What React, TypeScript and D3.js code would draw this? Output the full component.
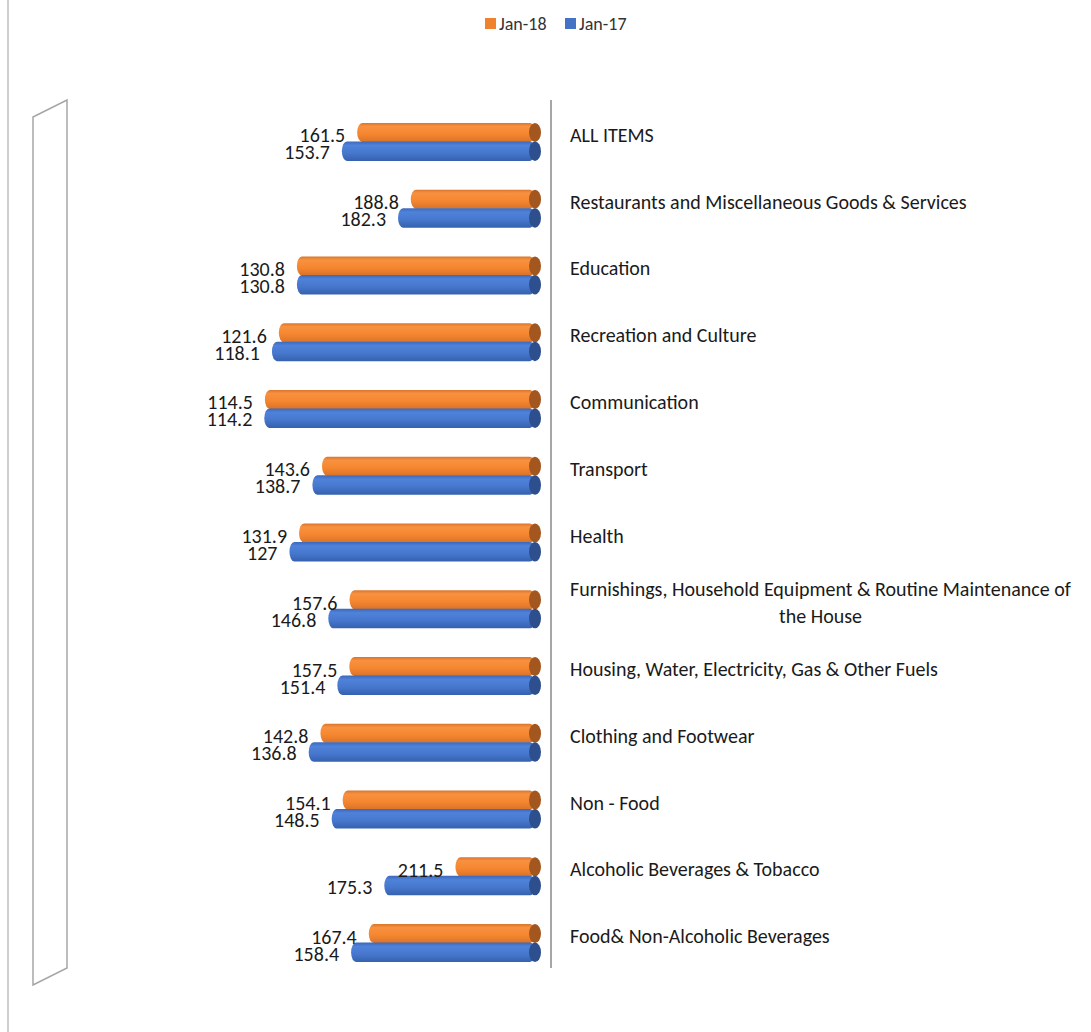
import * as d3 from "d3";
import { useMemo } from "react";

const categories = [
  "ALL ITEMS",
  "Restaurants and Miscellaneous Goods & Services",
  "Education",
  "Recreation and Culture",
  "Communication",
  "Transport",
  "Health",
  "Furnishings, Household Equipment & Routine Maintenance of the House",
  "Housing, Water, Electricity, Gas & Other Fuels",
  "Clothing and Footwear",
  "Non - Food",
  "Alcoholic Beverages & Tobacco",
  "Food& Non-Alcoholic Beverages",
];
const jan18 = [161.5, 188.8, 130.8, 121.6, 114.5, 143.6, 131.9, 157.6, 157.5, 142.8, 154.1, 211.5, 167.4];
const jan17 = [153.7, 182.3, 130.8, 118.1, 114.2, 138.7, 127, 146.8, 151.4, 136.8, 148.5, 175.3, 158.4];
const seriesNames = ["Jan-18", "Jan-17"];
const valueDomain = [0, 250];

const W = 1091;
const H = 1032;
const FONT = "Carlito, Lato, 'Liberation Sans', sans-serif";
const labelSize = 20;
const valueSize = 20;

// split a label into lines no wider than maxW
function wrap(text: string, maxW: number, font: string) {
  const ctx = document.createElement("canvas").getContext("2d")!;
  ctx.font = font;
  const words = text.split(" ");
  const lines: string[] = [];
  let cur = "";
  for (const w of words) {
    const t = cur ? cur + " " + w : w;
    if (ctx.measureText(t).width > maxW && cur) {
      lines.push(cur);
      cur = w;
    } else cur = t;
  }
  if (cur) lines.push(cur);
  const widest = d3.max(lines, (l) => ctx.measureText(l).width) || 0;
  return { lines, widest };
}

function Cylinder({ x0, x1, y, h, grad, cap }: { x0: number; x1: number; y: number; h: number; grad: string; cap: string }) {
  return (
    <g>
      <rect x={x0} y={y} width={x1 - x0} height={h} rx={5} ry={h / 2} fill={`url(#${grad})`} />
      <ellipse cx={x1} cy={y + h / 2} rx={6} ry={h / 2} fill={cap} />
    </g>
  );
}

export default function App() {
  const x = d3.scaleLinear().domain(valueDomain).range([45, 536]);
  const y = d3.scaleBand<string>().domain(categories).range([108.5, 976.5]).paddingInner(0);
  const bw = y.bandwidth();
  const xMax = x(valueDomain[1]);
  const x0 = x(valueDomain[0]);
  const [top, bottom] = y.range();

  const wrapped = useMemo(
    () => categories.map((c) => wrap(c, 515, `${labelSize}px ${FONT}`)),
    []
  );

  const barH = 19;

  return (
    <svg
      width={W}
      height={H}
      style={{ position: "absolute", left: 0, top: 0, background: "#fff", fontFamily: FONT }}
    >
      <defs>
        <linearGradient id="gOrange" x1="0" y1="0" x2="0" y2="1">
          <stop offset="0" stopColor="#D9752B" />
          <stop offset="0.18" stopColor="#F89140" />
          <stop offset="0.6" stopColor="#F5862F" />
          <stop offset="1" stopColor="#D8722A" />
        </linearGradient>
        <linearGradient id="gBlue" x1="0" y1="0" x2="0" y2="1">
          <stop offset="0" stopColor="#3C68B8" />
          <stop offset="0.2" stopColor="#4F82DA" />
          <stop offset="0.6" stopColor="#4677CD" />
          <stop offset="1" stopColor="#3561AE" />
        </linearGradient>
      </defs>

      {/* chart border */}
      <line x1={8} x2={8} y1={0} y2={H} stroke="#BFBFBF" strokeWidth={1.5} />

      {/* side wall at value 0 */}
      <polygon
        points={[
          [x0 - 12, top + 8.5],
          [x0 + 22, top - 8.5],
          [x0 + 22, bottom - 8.5],
          [x0 - 12, bottom + 8.5],
        ].map((p) => p.join(",")).join(" ")}
        fill="none"
        stroke="#A6A6A6"
        strokeWidth={1.5}
      />

      {/* category axis line */}
      <line x1={xMax + 15} x2={xMax + 15} y1={top - 8.5} y2={bottom - 8.5} stroke="#A6A6A6" strokeWidth={2} />

      {categories.map((c, i) => {
        const cy = (y(c) || 0) + bw / 2;
        const v18 = jan18[i];
        const v17 = jan17[i];
        return (
          <g key={c}>
            <Cylinder x0={x(v18) - 5} x1={xMax - 1} y={cy - barH} h={barH} grad="gOrange" cap="#A4561F" />
            <Cylinder x0={x(v17) - 5} x1={xMax - 1} y={cy - 0.5} h={barH + 0.5} grad="gBlue" cap="#2D4F8E" />
            <text x={x(v18) - 17} y={cy - 6.5} dy="0.35em" textAnchor="end" fontSize={valueSize} fill="#1a1a1a">
              {v18}
            </text>
            <text x={x(v17) - 17} y={cy + 10.5} dy="0.35em" textAnchor="end" fontSize={valueSize} fill="#1a1a1a">
              {v17}
            </text>
          </g>
        );
      })}

      {/* category labels */}
      {categories.map((c, i) => {
        const cy = (y(c) || 0) + bw / 2 - 7;
        const { lines, widest } = wrapped[i];
        const lh = 27;
        const startY = cy - ((lines.length - 1) * lh) / 2;
        const multi = lines.length > 1;
        return (
          <text
            key={c}
            x={multi ? 570 + widest / 2 : 570}
            textAnchor={multi ? "middle" : "start"}
            fontSize={labelSize}
            fill="#1a1a1a"
          >
            {lines.map((l, j) => (
              <tspan key={j} x={multi ? 570 + widest / 2 : 570} y={startY + j * lh} dy="0.35em">
                {l}
              </tspan>
            ))}
          </text>
        );
      })}

      {/* legend */}
      {seriesNames.map((s, i) => {
        const lx = 485 + i * 80;
        return (
          <g key={s}>
            <rect x={lx} y={18} width={11} height={11} fill={i === 0 ? "#F0812D" : "#4472C4"} />
            <text x={lx + 14} y={23.5} dy="0.35em" fontSize={18} fill="#333">
              {s}
            </text>
          </g>
        );
      })}
    </svg>
  );
}
